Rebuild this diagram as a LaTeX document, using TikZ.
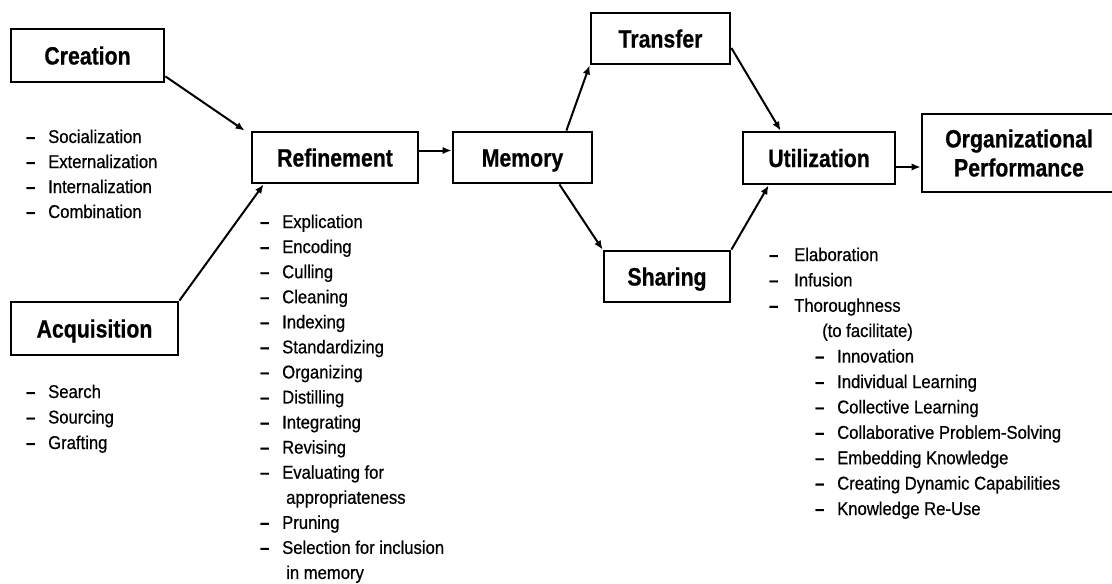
\documentclass[tikz,border=0pt]{standalone}
\usepackage{fontspec}
\setmainfont{Liberation Sans}[FakeStretch=0.9,FakeBold=0.6]
\newfontfamily\boxfont{Liberation Sans}[FakeStretch=0.85,FakeBold=0.6]
\usetikzlibrary{arrows.meta,calc}
\newcommand\dsh[1][22pt]{\makebox[#1][l]{\bfseries –}}
\begin{document}
\begin{tikzpicture}[x=1pt,y=-1pt,
  stagebox/.style={draw=black,line width=2.8pt,fill=white,inner sep=0pt,
    font=\boxfont\bfseries\fontsize{25}{30}\selectfont,align=center},
  one/.style={text height=18pt,text depth=0pt},
  item/.style={anchor=base west,inner sep=0pt,font=\fontsize{18.5}{22}\selectfont},
  arr/.style={line width=2pt,-{Latex[length=9pt,width=7.5pt]}}]
\useasboundingbox (0,0) rectangle (1112,584);
\fill[white] (0,0) rectangle (1112,584);

% boxes
\node[stagebox,one,minimum width=153pt,minimum height=53pt] (cre) at (87.5,55.5) {Creation};
\node[stagebox,one,minimum width=167pt,minimum height=53pt] (acq) at (94.5,328.5) {Acquisition};
\node[stagebox,one,minimum width=166pt,minimum height=51pt] (ref) at (335,157.5) {Refinement};
\node[stagebox,one,minimum width=139pt,minimum height=51pt] (mem) at (522.5,157.5) {Memory};
\node[stagebox,one,minimum width=139pt,minimum height=51pt] (tra) at (660.5,38.5) {Transfer};
\node[stagebox,one,minimum width=126pt,minimum height=51pt] (sha) at (667,276.5) {Sharing};
\node[stagebox,one,minimum width=152pt,minimum height=52pt] (uti) at (819,158) {Utilization};
\node[stagebox,minimum width=194pt,minimum height=78pt,text width=190pt] (org) at (1019,153) {Organizational\\[-1pt]Performance};

% connectors
\draw[arr] ([yshift=7pt]cre.south east) -- ([xshift=-6pt]ref.north west);
\draw[arr] (acq.north east) -- ([xshift=13pt]ref.south west);
\draw[arr] ([yshift=7pt]ref.east) -- ([yshift=7pt]mem.west);
\draw[arr] ([xshift=-27pt]mem.north east) -- (tra.south west);
\draw[arr] ([yshift=-9.5pt]tra.east) -- ([xshift=39pt]uti.north west);
\draw[arr] ([xshift=-34pt]mem.south east) -- (sha.north west);
\draw[arr] (sha.north east) -- ([xshift=27pt]uti.south west);
\draw[arr] ([yshift=-9pt]uti.east) -- ([yshift=-9pt]uti.east -| org.west);

% creation list
\foreach \t [count=\i] in {Socialization,Externalization,Internalization,Combination}
  \node[item] (cl\i) at (26,{143+25*(\i-1)}) {\dsh\t};

% acquisition list
\foreach \t [count=\i] in {Search,Sourcing,Grafting}
  \node[item] (al\i) at (26,{398+25.5*(\i-1)}) {\dsh\t};

% refinement list
\foreach \t [count=\i] in {\dsh Explication,\dsh Encoding,\dsh Culling,\dsh Cleaning,
   \dsh Indexing,\dsh Standardizing,\dsh Organizing,\dsh Distilling,\dsh Integrating,
   \dsh Revising,\dsh Evaluating for,\hspace*{26pt}appropriateness,\dsh Pruning,
   \dsh Selection for inclusion,\hspace*{26pt}in memory}
  \node[item] (rl\i) at (260,{228+25.07*(\i-1)}) {\t};

% utilization list
\foreach \t [count=\i] in {Elaboration,Infusion,Thoroughness}
  \node[item] (ul\i) at (769,{261+25.4*(\i-1)}) {\dsh[25pt]\t};
\node[item] (fac) at (822,337) {(to facilitate)};
\foreach \t [count=\i] in {Innovation,Individual Learning,Collective Learning,
   Collaborative Problem-Solving,Embedding Knowledge,Creating Dynamic Capabilities,
   Knowledge Re-Use}
  \node[item] (sl\i) at (815,{362.6+25.4*(\i-1)}) {\dsh\t};
\end{tikzpicture}
\end{document}
